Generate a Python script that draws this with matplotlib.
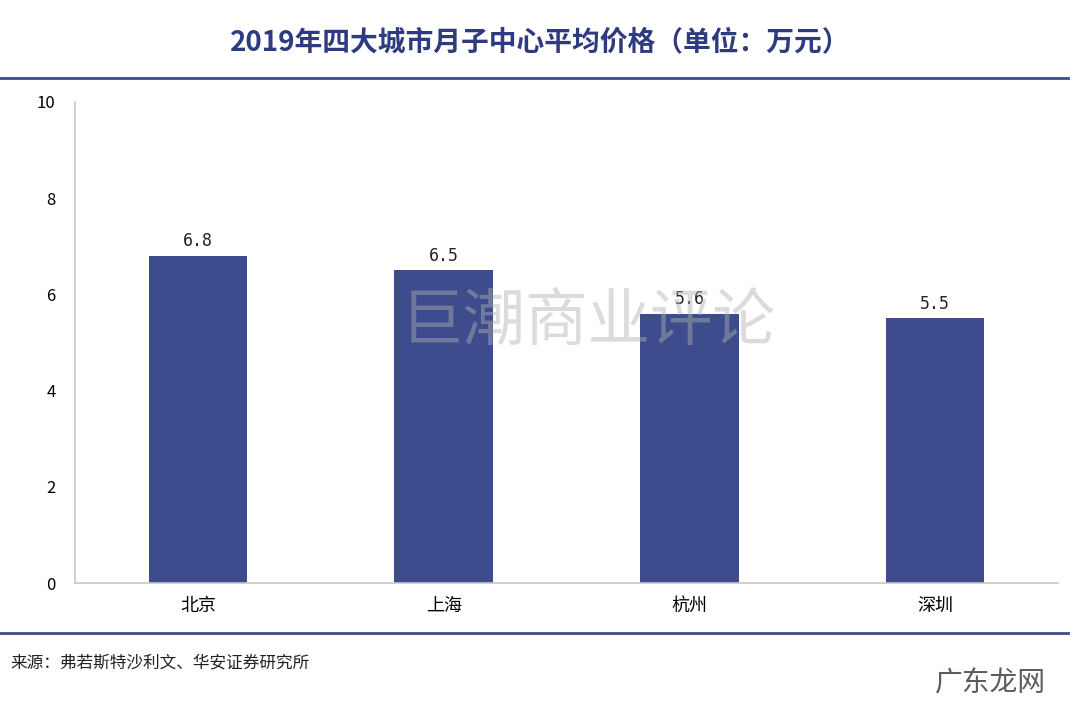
import matplotlib
matplotlib.use("Agg")
import matplotlib.pyplot as plt

plt.rcParams['font.family'] = ['Noto Sans CJK SC', 'DejaVu Sans']

cities = ["北京", "上海", "杭州", "深圳"]
prices = [6.8, 6.5, 5.6, 5.5]
yticks = [0, 2, 4, 6, 8, 10]

W, H = 1080, 710
fig = plt.figure(figsize=(W/100, H/100), dpi=100)
ax = fig.add_axes([75/W, 1-583/H, (1058-75)/W, (583-102)/H])
x = range(len(cities))
bars = ax.bar(x, prices, width=0.4, color="#3C4C8C")
for xi, v in zip(x, prices):
    ax.text(xi, v + 0.12, f"{v}", ha="center", va="bottom", fontsize=12,
            family="DejaVu Sans Mono", color="#222222")
ax.set_xlim(-0.5, 3.5)
ax.set_ylim(0, 10)
ax.set_yticks(yticks)
ax.set_xticks(list(x))
ax.set_xticklabels(cities, fontsize=13)
ax.tick_params(axis='y', labelsize=12, length=0, pad=14)
ax.tick_params(axis='x', length=0, pad=10)
for s in ["top", "right"]:
    ax.spines[s].set_visible(False)
for s in ["left", "bottom"]:
    ax.spines[s].set_color("#C8C8C8")
    ax.spines[s].set_linewidth(1.2)

fig.text(0.5, 1-42/H, "2019年四大城市月子中心平均价格（单位：万元）", ha="center", va="center",
         fontsize=20, fontweight="bold", color="#2E3B80")
fig.add_artist(plt.Line2D([0, 1068/W], [1-78/H, 1-78/H], color="#3C4C8C", lw=2))
fig.add_artist(plt.Line2D([0, 1068/W], [1-633/H, 1-633/H], color="#3C4C8C", lw=2))
fig.text(10/W, 1-663/H, "来源：弗若斯特沙利文、华安证券研究所", ha="left", va="center", fontsize=12, color="#222222")
fig.text(588/W, 1-322/H, "巨潮商业评论", ha="center", va="center", fontsize=45, color="#B0B0B0", alpha=0.45)
fig.text(990/W, 1-683/H, "广东龙网", ha="center", va="center", fontsize=20, color="#333333", alpha=0.8)
fig.savefig("out.png", dpi=100)
